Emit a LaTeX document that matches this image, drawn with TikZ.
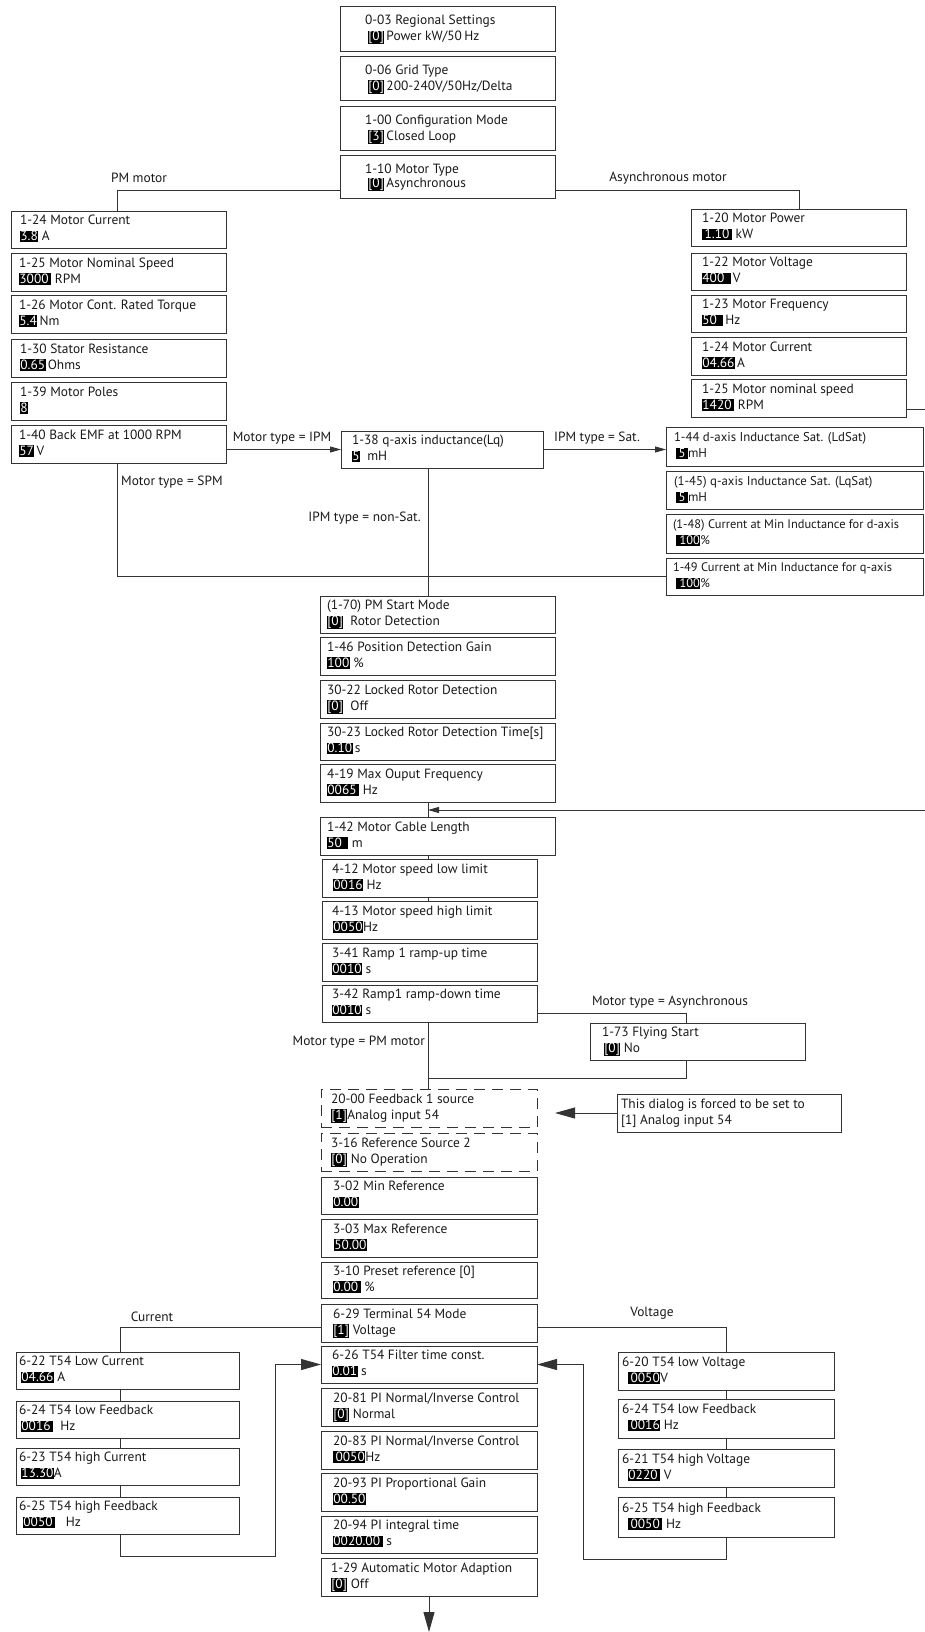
\documentclass[tikz,border=0pt]{standalone}
\usepackage{fontspec}
\setmainfont{PT Sans}
\usetikzlibrary{arrows.meta}
\setlength{\fboxsep}{0.4pt}
\newcommand\val[1]{\colorbox{black}{\vrule height 9pt depth 1.2pt width 0pt\textcolor{white}{#1}}}
\newcommand\txtfont{\fontsize{13.4}{16}\selectfont}
% [style]{name}{left}{top}{right}{bottom}{indent}{line1}{line2}
\newcommand\pbox[9][]{%
  \node[boxst,#1,minimum width={(#5-#3)*1pt},minimum height={(#6-#4)*1pt},anchor=north west] (#2) at (#3,#4) {};
  \node[txt,anchor=west] (#2t) at ([xshift=#7pt]#2.west) {\strut #8\\\strut #9};
}
\begin{document}
\begin{tikzpicture}[x=1pt,y=-1pt,
  boxst/.style={draw=black!80,line width=1pt,rectangle,inner sep=0pt,outer sep=0pt},
  dbox/.style={dash pattern=on 11pt off 7pt},
  txt/.style={align=left,inner sep=0pt,outer sep=0pt,font=\txtfont,text=black!90},
  lbl/.style={inner sep=0pt,font=\fontsize{13.4}{15}\selectfont,text=black!90},
  link/.style={draw=black!80,line width=0.9pt},
  sarrow/.style={link,-{Triangle[length=11pt,width=6pt]}},
  barrow/.style={link,-{Triangle[length=20pt,width=11pt]}}]
\useasboundingbox (0,0) rectangle (925,1632);

% ---- top column
\pbox{b003}{340}{7}{555}{52}{25}{0-03 Regional Settings}{\hspace{3pt}\val{[0]}\,Power kW/50\,Hz}
\pbox{b006}{340}{57}{555}{101}{25}{0-06 Grid Type}{\hspace{3pt}\val{[0]}\,200-240V/50Hz/Delta}
\pbox{b100}{340}{107}{555}{151}{25}{1-00 Configuration Mode}{\hspace{3pt}\val{[3]}\,Closed Loop}
\node[boxst,minimum width=215pt,minimum height=43pt,anchor=north west] (b110) at (340,156) {};
\node[txt,anchor=west,font=\fontsize{13.4}{12}\selectfont] (b110t) at ([xshift=25pt]b110.west) {\strut 1-10 Motor Type\\\hspace{3pt}\strut\val{[0]}\,Asynchronous};

% ---- PM motor column
\pbox{b124p}{11}{211}{226}{248}{9}{1-24 Motor Current}{\val{3.8} A}
\pbox{b125p}{11}{253}{226}{291}{8}{1-25 Motor Nominal Speed}{\val{3000\,} RPM}
\pbox{b126}{11}{295}{226}{333}{8}{1-26 Motor Cont. Rated Torque}{\val{5.4}\,Nm}
\pbox{b130}{11}{339}{226}{377}{9}{1-30 Stator Resistance}{\val{0.65}\,Ohms}
\pbox{b139}{11}{382}{226}{420}{9}{1-39 Motor Poles}{\val{8}}
\pbox{b140}{11}{425}{226}{463}{8}{1-40 Back EMF at 1000 RPM}{\val{57}\,V}

% ---- Asynchronous motor column
\pbox{b120}{691}{209}{906}{246}{11}{1-20 Motor Power}{\val{\,1.10\,} kW}
\pbox{b122}{691}{253}{906}{290}{11}{1-22 Motor Voltage}{\val{400\ \,}\,V}
\pbox{b123}{691}{295}{906}{332}{11}{1-23 Motor Frequency}{\val{50\ \,}\,Hz}
\pbox{b124a}{691}{337}{906}{375}{11}{1-24 Motor Current}{\val{04.66}\,A}
\pbox{b125a}{691}{379}{906}{417}{11}{1-25 Motor nominal speed}{\val{1420\,} RPM}

% ---- inductance
\pbox{b138}{341}{431}{543}{468}{11}{1-38 q-axis inductance(Lq)}{\val{5}\ \ mH}
\renewcommand\txtfont{\fontsize{12.8}{16}\selectfont}
\pbox{b144}{666}{427}{923}{466}{8}{1-44 d-axis Inductance Sat. (LdSat)}{\hspace{2pt}\val{\,5\,}mH}
\pbox{b145}{666}{471}{923}{509}{8}{(1-45) q-axis Inductance Sat. (LqSat)}{\hspace{2pt}\val{\,5\,}mH}
\renewcommand\txtfont{\fontsize{12.4}{16}\selectfont}
\pbox{b148}{666}{514}{923}{553}{7}{(1-48) Current at Min Inductance for d-axis}{\hspace{3pt}\val{\ 100}\%}
\pbox{b149}{666}{558}{923}{595}{7}{1-49 Current at Min Inductance for q-axis}{\hspace{3pt}\val{\ 100}\%}
\renewcommand\txtfont{\fontsize{13.4}{16}\selectfont}

% ---- main column, part 2
\pbox{b170}{320}{596}{555}{633}{7}{(1-70) PM Start Mode}{\val{[0]}\ \ Rotor Detection}
\pbox{b146}{320}{637}{555}{675}{7}{1-46 Position Detection Gain}{\val{100} \%}
\pbox{b3022}{320}{680}{555}{718}{7}{30-22 Locked Rotor Detection}{\val{[0]}\ \ Off}
\pbox{b3023}{320}{723}{555}{760}{7}{30-23 Locked Rotor Detection Time[s]}{\val{0.10}\,s}
\pbox{b419}{320}{764}{555}{802}{7}{4-19 Max Ouput Frequency}{\val{0065\,} Hz}
\pbox{b142}{320}{817}{555}{855}{7}{1-42 Motor Cable Length}{\val{50\ \,}\ m}

% ---- main column, part 3
\pbox{b412}{322}{859}{537}{897}{10}{4-12 Motor speed low limit}{\hspace{1pt}\val{0016} Hz}
\pbox{b413}{322}{901}{537}{939}{10}{4-13 Motor speed high limit}{\hspace{1pt}\val{0050}Hz}
\pbox{b341}{322}{943}{537}{981}{10}{3-41 Ramp 1 ramp-up time}{\val{0010} s}
\pbox{b342}{322}{985}{537}{1022}{10}{3-42 Ramp1 ramp-down time}{\val{0010} s}
\pbox{b173}{590}{1023}{805}{1060}{12}{1-73 Flying Start}{\hspace{2pt}\val{[0]}\ No}

% ---- dashed boxes and note
\pbox[dbox]{b2000}{321}{1089}{537}{1127}{10}{20-00 Feedback 1 source}{\val{[1]}Analog input 54}
\pbox[dbox]{b316}{321}{1133}{537}{1171}{10}{3-16 Reference Source 2}{\val{[0]} No Operation}
\pbox{bnote}{617}{1094}{841}{1132}{4}{This dialog is forced to be set to}{[1] Analog input 54}

% ---- main column, bottom
\pbox{b302}{321}{1177}{537}{1214}{12}{3-02 Min Reference}{\val{0.00}}
\pbox{b303}{321}{1219}{537}{1257}{12}{3-03 Max Reference}{\hspace{1pt}\val{50.00}}
\pbox{b310}{321}{1262}{537}{1298}{12}{3-10 Preset reference [0]}{\val{0.00\,} \%}
\pbox{b629}{321}{1304}{537}{1342}{12}{6-29 Terminal 54 Mode}{\val{[1]} Voltage}
\pbox{b626}{321}{1346}{537}{1383}{11}{6-26 T54 Filter time const.}{\val{0.01} s}
\pbox{b2081}{321}{1388}{537}{1426}{12}{20-81 PI Normal/Inverse Control}{\val{[0]} Normal}
\pbox{b2083}{321}{1431}{537}{1469}{12}{20-83 PI Normal/Inverse Control}{\val{\,0050}Hz}
\pbox{b2093}{321}{1473}{537}{1511}{12}{20-93 PI Proportional Gain}{\val{00.50}}
\pbox{b2094}{321}{1516}{537}{1553}{12}{20-94 PI integral time}{\val{0020.00\,} s}
\pbox{b129}{321}{1558}{537}{1596}{10}{1-29 Automatic Motor Adaption}{\val{[0]} Off}

% ---- current group
\pbox{b622}{16}{1352}{239}{1389}{3}{6-22 T54 Low Current}{\hspace{2pt}\val{04.66} A}
\pbox{b624l}{16}{1401}{239}{1438}{3}{6-24 T54 low Feedback}{\hspace{2pt}\val{0016\,}\ \ Hz}
\pbox{b623}{16}{1448}{239}{1485}{3}{6-23 T54 high Current}{\hspace{2pt}\val{13.30}A}
\pbox{b625l}{16}{1497}{239}{1534}{3}{6-25 T54 high Feedback}{\hspace{4pt}\val{0050\,}\ \ \ Hz}

% ---- voltage group
\pbox{b620}{618}{1352}{834}{1390}{4}{6-20 T54 low Voltage}{\hspace{6pt}\val{\,0050}V}
\pbox{b624r}{618}{1399}{834}{1438}{4}{6-24 T54 low Feedback}{\hspace{6pt}\val{\,0016} Hz}
\pbox{b621}{618}{1449}{834}{1487}{4}{6-21 T54 high Voltage}{\hspace{6pt}\val{0220\,} V}
\pbox{b625r}{618}{1497}{834}{1537}{4}{6-25 T54 high Feedback}{\hspace{6pt}\val{\,0050\,} Hz}

% ---- coordinates
\coordinate (jPM) at (117,190);
\coordinate (jAS) at (799,190);
\coordinate (cMain) at (428,0);
\coordinate (rA) at (925,409);
\coordinate (rB) at (925,810);
\coordinate (cA) at (686,1013);
\coordinate (cB) at (686,1078);
\coordinate (cL) at (120,1327);
\coordinate (cR) at (726,1327);
\coordinate (cL2) at (275,1556);
\coordinate (cR2) at (583,1559);
\coordinate (cEnd) at (429,1632);

% ---- connectors
\draw[link] (b110.west |- jPM) -- (jPM) -- (b124p.north -| jPM);
\draw[link] (b110.east |- jAS) -- (jAS) -- (b120.north -| jAS);
\draw[sarrow] (b140.east |- b138.west) -- (b138.west);
\draw[sarrow] (b138.east) -- (b138.east -| b144.west);
\draw[link] (b140.south -| jPM) |- (b149.west);
\draw[link] (b138.south -| cMain) -- (b170.north -| cMain);
\draw[link] (b125a.east |- rA) -- (rA);
\draw[link] (b419.south -| cMain) -- (b142.north -| cMain);
\draw[sarrow] (rB) -- (rB -| cMain);
\draw[link] (b142.south -| cMain) -- (b412.north -| cMain);
\draw[link] (b412.south -| cMain) -- (b413.north -| cMain);
\draw[link] (b342.east |- cA) -- (cA) -- (b173.north -| cA);
\draw[link] (b173.south -| cB) -- (cB) -- (cB -| cMain);
\draw[link] (b342.south -| cMain) -- (b2000.north -| cMain);
\draw[barrow,shorten >=18pt] (bnote.west) -- (bnote.west -| b2000.east);
\draw[link] (b629.west |- cL) -- (cL) -- (b622.north -| cL);
\draw[link] (b629.east |- cR) -- (cR) -- (b620.north -| cR);
\draw[link] (b622.south -| cL) -- (b624l.north -| cL);
\draw[link] (b624l.south -| cL) -- (b623.north -| cL);
\draw[link] (b623.south -| cL) -- (b625l.north -| cL);
\draw[link] (b620.south -| cR) -- (b624r.north -| cR);
\draw[link] (b624r.south -| cR) -- (b621.north -| cR);
\draw[link] (b621.south -| cR) -- (b625r.north -| cR);
\draw[barrow] (b625l.south -| cL) |- (cL2) |- (b626.west);
\draw[barrow] (b625r.south -| cR) |- (cR2) |- (b626.east);
\draw[barrow] (b129.south -| cEnd) -- (cEnd);

% ---- labels
\node[lbl] (lPM) at (139,178) {PM motor};
\node[lbl] (lAS) at (668,178) {Asynchronous motor};
\node[lbl] (lIPM) at (282,438) {Motor type = IPM};
\node[lbl] (lSat) at (597,438) {IPM type = Sat.};
\node[lbl,anchor=west] (lSPM) at (121,482) {Motor type = SPM};
\node[lbl,anchor=east] (lNS) at (421,518) {IPM type = non-Sat.};
\node[lbl] (lAsy) at (670,1002) {Motor type = Asynchronous};
\node[lbl,anchor=east] (lPMm) at (425,1042) {Motor type = PM motor};
\node[lbl] (lCur) at (152,1317) {Current};
\node[lbl] (lVol) at (652,1313) {Voltage};
\end{tikzpicture}
\end{document}
